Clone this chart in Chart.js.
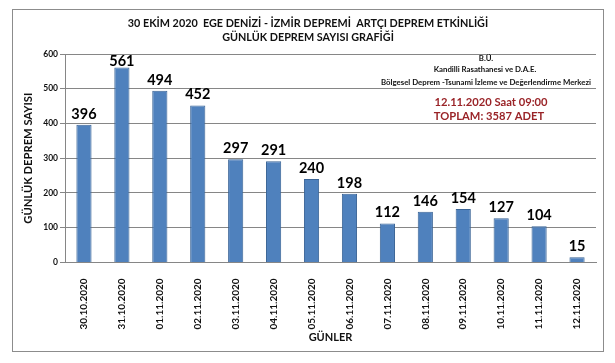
<!DOCTYPE html>
<html>
<head>
<meta charset="utf-8">
<script src="https://cdn.jsdelivr.net/npm/chart.js@4"></script>
<style>
  html, body { margin:0; padding:0; background:#fff; }
  #wrap { width:615px; height:363px; }
</style>
</head>
<body>
<div id="wrap"><canvas id="chart" width="615" height="363"></canvas></div>
<script>

// ============================
// DATA
// ============================

const days = [
  "30.10.2020","31.10.2020","01.11.2020","02.11.2020","03.11.2020",
  "04.11.2020","05.11.2020","06.11.2020","07.11.2020","08.11.2020",
  "09.11.2020","10.11.2020","11.11.2020","12.11.2020"
];

const quakeCounts = [396, 561, 494, 452, 297, 291, 240, 198, 112, 146, 154, 127, 104, 15];

const yTicks = [0, 100, 200, 300, 400, 500, 600];

const titleLines = [
  "30 EKİM 2020  EGE DENİZİ - İZMİR DEPREMİ  ARTÇI DEPREM ETKİNLİĞİ",
  "GÜNLÜK DEPREM SAYISI GRAFİĞİ"
];

const sourceLines = [
  "B.Ü.",
  "Kandilli Rasathanesi ve D.A.E.",
  "Bölgesel Deprem -Tsunami İzleme ve Değerlendirme Merkezi"
];

const infoLines = [
  "12.11.2020 Saat 09:00",
  "TOPLAM: 3587 ADET"
];


// ============================
// PLUGINS
// ============================

const FONT = "Lato, 'Open Sans', sans-serif";

// frame + white background
const framePlugin = {
  id:"frame",
  beforeDraw(chart){
    const c = chart.ctx;
    c.save();
    c.fillStyle = "#fff";
    c.fillRect(0,0,chart.width,chart.height);
    c.strokeStyle = "#8c8c8c";
    c.lineWidth = 1;
    c.strokeRect(12.5, 9.5, 591, 342);
    c.restore();
  }
};

// titles and notes
const textPlugin = {
  id:"texts",
  afterDraw(chart){
    const c = chart.ctx;
    c.save();
    c.textAlign = "center";
    c.textBaseline = "middle";

    c.fillStyle = "#111";
    c.font = "bold 10.8px " + FONT;
    c.fillText(titleLines[0], 308, 24);
    c.fillText(titleLines[1], 308, 38);

    c.font = "bold 7.8px " + FONT;
    c.fillText(sourceLines[0], 486, 58);
    c.fillText(sourceLines[1], 485, 69);
    c.fillText(sourceLines[2], 486, 82);

    c.fillStyle = "#9a2428";
    c.font = "bold 11.2px " + FONT;
    c.fillText(infoLines[0], 491, 102);
    c.fillText(infoLines[1], 489, 116);
    c.restore();
  }
};

// value labels over bars
const valuePlugin = {
  id:"values",
  afterDatasetsDraw(chart){
    const c = chart.ctx;
    const meta = chart.getDatasetMeta(0);
    const top = chart.chartArea.top;
    c.save();
    c.fillStyle = "#000";
    c.font = "bold 14.5px " + FONT;
    c.textAlign = "center";
    c.textBaseline = "alphabetic";
    meta.data.forEach((bar,i)=>{
      const y = Math.max(bar.y - 6, top + 12);
      c.fillText(String(quakeCounts[i]), bar.x, y);
    });
    c.restore();
  }
};


// ============================
// CHART
// ============================

new Chart(document.getElementById("chart"),{
  type:"bar",
  data:{
    labels:days,
    datasets:[{
      data:quakeCounts,
      backgroundColor:"#4f81bd",
      borderColor:"#3a6496",
      borderWidth:1,
      categoryPercentage:1,
      barPercentage:0.4
    }]
  },
  options:{
    responsive:false,
    animation:false,
    layout:{
      padding:{ left:18, right:19, top:54, bottom:19 }
    },
    plugins:{
      legend:{ display:false },
      tooltip:{ enabled:false },
      title:{ display:false }
    },
    scales:{
      x:{
        grid:{ display:false },
        border:{ display:true, color:"#868686" },
        ticks:{
          minRotation:90,
          maxRotation:90,
          autoSkip:false,
          padding:8,
          color:"#111",
          font:{ family:FONT, size:10, weight:"bold" }
        },
        title:{
          display:true,
          text:"GÜNLER",
          color:"#111",
          padding:{ top:0, bottom:0 },
          font:{ family:FONT, size:11, weight:"bold" }
        },
        afterFit(scale){ scale.height = 81.6; }
      },
      y:{
        min:0,
        max:600,
        afterBuildTicks(scale){
          scale.ticks = yTicks.map(v=>({ value:v }));
        },
        grid:{
          color:"#868686",
          lineWidth:1,
          drawTicks:true,
          tickLength:5
        },
        border:{ display:true, color:"#868686" },
        ticks:{
          padding:2,
          color:"#111",
          font:{ family:FONT, size:8.5, weight:"bold" }
        },
        title:{
          display:true,
          text:"GÜNLÜK DEPREM SAYISI",
          color:"#111",
          padding:{ top:4, bottom:0 },
          font:{ family:FONT, size:11.2, weight:"bold" }
        },
        afterFit(scale){ scale.width = 47; }
      }
    }
  },
  plugins:[framePlugin, valuePlugin, textPlugin]
});

</script>
</body>
</html>
